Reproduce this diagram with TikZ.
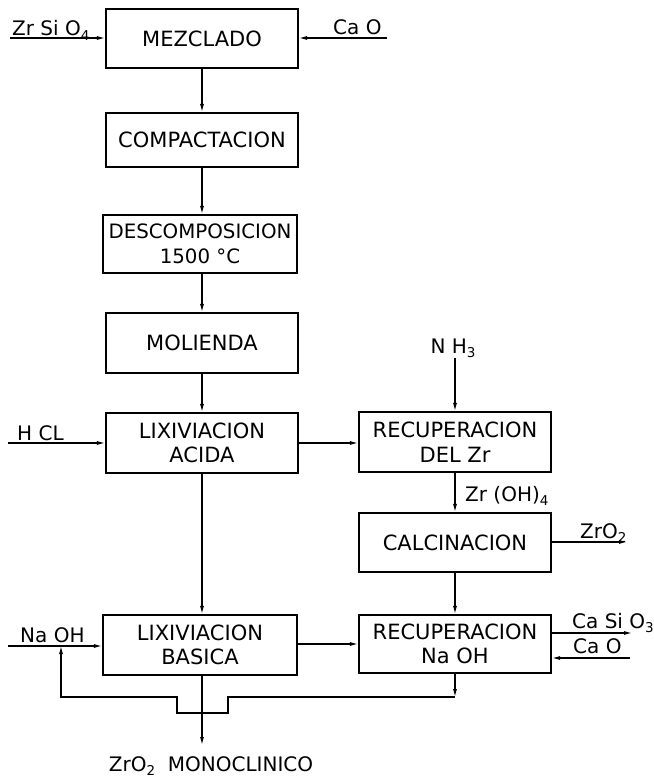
\documentclass[tikz,border=0pt]{standalone}
\usepackage{fontspec}
\setmainfont{DejaVu Sans}
\usetikzlibrary{arrows.meta}
\newcommand{\sbs}[1]{\raisebox{-0.4ex}{\fontsize{13.5}{13.5}\selectfont #1}}
\begin{document}
\begin{tikzpicture}[x=1pt,y=-1pt,
  procbox/.style={draw, line width=2.2pt, minimum width=192pt, minimum height=59pt,
    align=center, inner sep=0pt, font=\fontsize{21}{24.5}\selectfont},
  flow/.style={line width=1.1pt, -{Latex[length=8pt,width=4pt]}},
  lbl/.style={inner sep=0pt, font=\fontsize{20}{24}\selectfont}]
\useasboundingbox (0,0) rectangle (653,778);
% process boxes
\node[procbox] (mez)  at (202,38.5) {MEZCLADO};
\node[procbox, minimum height=54pt] (comp) at (202,140) {COMPACTACION};
\node[procbox, minimum width=194pt, minimum height=58pt, font=\fontsize{19.8}{24.5}\selectfont] (desc) at (200,244) {DESCOMPOSICION\\1500 °C};
\node[procbox, minimum height=60pt] (mol)  at (202,343) {MOLIENDA};
\node[procbox, minimum height=60pt] (lixa) at (202,443) {LIXIVIACION\\ACIDA};
\node[procbox, minimum height=60pt] (recz) at (455,442) {RECUPERACION\\DEL Zr};
\node[procbox] (calc) at (455,542.5) {CALCINACION};
\node[procbox, minimum width=194pt, minimum height=60pt] (lixb) at (200,645) {LIXIVIACION\\BASICA};
\node[procbox, minimum height=58pt] (recn) at (455,644) {RECUPERACION\\Na OH};
% labels
\node[lbl, anchor=base west] (zrsio4) at (12,36) {Zr Si O\sbs{4}};
\node[lbl, anchor=base west] (cao1) at (333,35) {Ca O};
\node[lbl, anchor=base west] (hcl) at (17,440) {H CL};
\node[lbl, anchor=base] (nh3) at (453,353) {N H\sbs{3}};
\node[lbl, anchor=base west] (zroh) at (465,501) {Zr (OH)\sbs{4}};
\node[lbl, anchor=base west] (zro2) at (580,538) {ZrO\sbs{2}};
\node[lbl, anchor=base west] (naoh) at (20,642) {Na OH};
\node[lbl, anchor=base west] (casio3) at (572,628) {Ca Si O\sbs{3}};
\node[lbl, anchor=base west] (cao2) at (573,653) {Ca O};
\node[lbl, anchor=base] (mono) at (211,771) {ZrO\sbs{2}\ \ MONOCLINICO};
% free ends
\coordinate (zrin) at (10,38);
\coordinate (caoin) at (387,38);
\coordinate (hclin) at (8,443);
\coordinate (nh3in) at (455,358);
\coordinate (zro2out) at (627,542);
\coordinate (naohin) at (8,646);
\coordinate (casiout) at (632,633);
\coordinate (cao2in) at (630,658);
\coordinate (monoout) at (202,745);
% recycle path points
\coordinate (r1) at (455,697);
\coordinate (r2) at (228,697);
\coordinate (r3) at (228,713);
\coordinate (r4) at (177,713);
\coordinate (r5) at (177,697);
\coordinate (r6) at (61,697);
\coordinate (r7) at (61,646);
% connectors
\draw[flow] (zrin) -- (zrin -| mez.west);
\draw[flow] (caoin) -- (caoin -| mez.east);
\draw[flow] (mez) -- (comp);
\draw[flow] (comp.south) -- (comp.south |- desc.north);
\draw[flow] (desc.south -| mol.south) -- (mol.north);
\draw[flow] (mol) -- (lixa);
\draw[flow] (hclin) -- (hclin -| lixa.west);
\draw[flow] (lixa.east) -- (lixa.east -| recz.west);
\draw[flow] (nh3in) -- (recz.north);
\draw[flow] (recz) -- (calc);
\draw[flow] (calc.east |- zro2out) -- (zro2out);
\draw[flow] (calc) -- (recn);
\draw[flow] (lixa.south) -- (lixa.south |- lixb.north);
\draw[flow] (naohin) -- (naohin -| lixb.west);
\draw[flow] (lixb.east |- recn.west) -- (recn.west);
\draw[flow] (recn.east |- casiout) -- (casiout);
\draw[flow] (cao2in) -- (cao2in -| recn.east);
\draw[flow] (lixb.south -| monoout) -- (monoout);
\draw[flow] (recn.south) -- (r1);
\draw[flow] (r1) -- (r2) -- (r3) -- (r4) -- (r5) -- (r6) -- (r7);
\end{tikzpicture}
\end{document}
